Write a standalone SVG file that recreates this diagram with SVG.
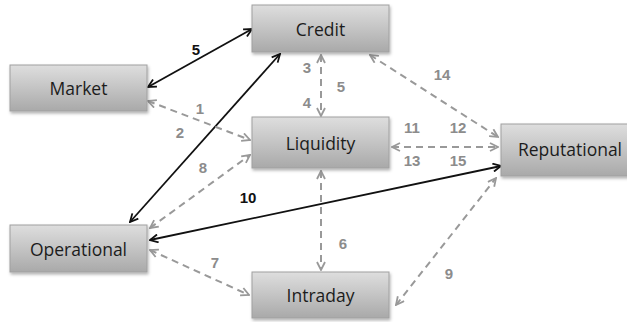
<svg xmlns="http://www.w3.org/2000/svg" width="627" height="322" viewBox="0 0 627 322">
<defs>
<linearGradient id="g" x1="0" y1="0" x2="0" y2="1">
<stop offset="0" stop-color="#dedede"/>
<stop offset="0.5" stop-color="#c4c4c4"/>
<stop offset="1" stop-color="#a9a9a9"/>
</linearGradient>
<filter id="sh" x="-10%" y="-10%" width="125%" height="130%">
<feDropShadow dx="1" dy="2" stdDeviation="1.5" flood-color="#000" flood-opacity="0.3"/>
</filter>
<marker id="ab" viewBox="0 0 10 10" refX="9" refY="5" markerWidth="10" markerHeight="10" markerUnits="userSpaceOnUse" orient="auto-start-reverse">
<path d="M1,1 L9,5 L1,9" fill="none" stroke="#111" stroke-width="1.8"/>
</marker>
<marker id="ag" viewBox="0 0 10 10" refX="9" refY="5" markerWidth="10" markerHeight="10" markerUnits="userSpaceOnUse" orient="auto-start-reverse">
<path d="M1,1 L9,5 L1,9" fill="none" stroke="#999" stroke-width="1.8"/>
</marker>
</defs>
<style>
.box{fill:url(#g);stroke:#a0a0a0;stroke-width:1;filter:url(#sh)}
.lbl{font-family:"Open Sans","Liberation Sans",sans-serif;font-size:17.5px;fill:#1c1c1c;text-anchor:middle;dominant-baseline:central}
.s{fill:none;stroke:#111;stroke-width:1.8;marker-start:url(#ab);marker-end:url(#ab)}
.d{fill:none;stroke:#999;stroke-width:2;stroke-dasharray:7,5;marker-start:url(#ag);marker-end:url(#ag)}
.n{font-family:"Liberation Sans",sans-serif;font-size:15px;font-weight:bold;fill:#8c8c8c;text-anchor:middle;dominant-baseline:central}
.nb{font-family:"Liberation Sans",sans-serif;font-size:15px;font-weight:bold;fill:#111;text-anchor:middle;dominant-baseline:central}
</style>
<g id="connectors">
<line class="s" x1="148" y1="87" x2="252" y2="29"/>
<line class="s" x1="130" y1="222" x2="280" y2="54"/>
<line class="s" x1="150" y1="240" x2="501" y2="166"/>
<line class="d" x1="148" y1="101" x2="250" y2="140"/>
<line class="d" x1="150" y1="228" x2="250" y2="155"/>
<line class="d" x1="150" y1="250" x2="249" y2="295"/>
<line class="d" x1="321" y1="55" x2="321" y2="116"/>
<line class="d" x1="321" y1="171" x2="321" y2="270"/>
<line class="d" x1="370" y1="55" x2="498" y2="137"/>
<line class="d" x1="392" y1="147" x2="498" y2="147"/>
<line class="d" x1="396" y1="305" x2="496" y2="178"/>
<text class="nb" x="196" y="49">5</text>
<text class="nb" x="248" y="197">10</text>
<text class="n" x="200" y="108">1</text>
<text class="n" x="180" y="132">2</text>
<text class="n" x="307" y="67">3</text>
<text class="n" x="307" y="102">4</text>
<text class="n" x="341" y="86">5</text>
<text class="n" x="442" y="74">14</text>
<text class="n" x="412" y="127">11</text>
<text class="n" x="458" y="127">12</text>
<text class="n" x="412" y="160">13</text>
<text class="n" x="458" y="160">15</text>
<text class="n" x="203" y="167">8</text>
<text class="n" x="215" y="262">7</text>
<text class="n" x="343" y="243">6</text>
<text class="n" x="449" y="273">9</text>
</g>
<g id="credit"><rect class="box" x="252" y="5" width="137" height="47"/><text class="lbl" x="320.5" y="28.5">Credit</text></g>
<g id="market"><rect class="box" x="10" y="65" width="137" height="46"/><text class="lbl" x="78.5" y="88">Market</text></g>
<g id="liquidity"><rect class="box" x="252" y="117" width="137" height="51"/><text class="lbl" x="320.5" y="143">Liquidity</text></g>
<g id="reputational"><rect class="box" x="501" y="124" width="134" height="52"/><text class="lbl" x="570" y="149">Reputational</text></g>
<g id="operational"><rect class="box" x="10" y="225" width="137" height="47"/><text class="lbl" x="78.5" y="248.5">Operational</text></g>
<g id="intraday"><rect class="box" x="252" y="272" width="137" height="46"/><text class="lbl" x="320.5" y="295">Intraday</text></g>
</svg>
